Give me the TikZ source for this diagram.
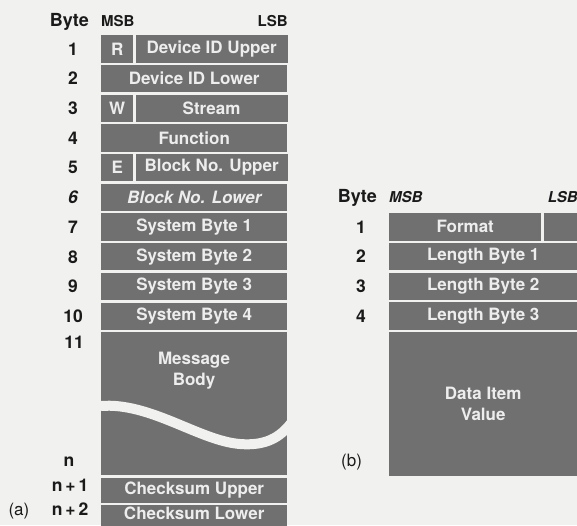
\documentclass[tikz,border=0pt]{standalone}
\usepackage{fontspec}
\setsansfont{TeX Gyre Heros}
\usetikzlibrary{positioning}
\definecolor{cellgray}{HTML}{707070}
\definecolor{paper}{HTML}{F1F1EF}
\definecolor{celltext}{HTML}{EDEDED}
\definecolor{ink}{HTML}{1A1A1A}

\begin{document}
\begin{tikzpicture}[x=1pt, y=-1pt,
    cell/.style={fill=cellgray, text=celltext, inner sep=0pt, minimum height=27.3pt, font=\sffamily\bfseries\fontsize{17}{21}\selectfont},
    wide/.style={cell, minimum width=186pt},
    wideb/.style={cell, minimum width=188pt},
    flag/.style={cell, minimum width=32pt},
    rest/.style={cell, minimum width=152pt},
    num/.style={text=ink, inner sep=0pt, text height=12.5pt, text depth=0pt, font=\sffamily\bfseries\fontsize{17.5}{19}\selectfont},
    hdr/.style={text=ink, inner sep=0pt, font=\sffamily\bfseries\fontsize{15}{17}\selectfont},
    hdrit/.style={hdr, font=\sffamily\bfseries\itshape\fontsize{15}{17}\selectfont},
    byte/.style={text=ink, inner sep=0pt, font=\sffamily\bfseries\fontsize{18}{20}\selectfont},
    caption/.style={text=ink, inner sep=0pt, font=\sffamily\fontsize{17}{19}\selectfont}
]
\fill[paper] (0,0) rectangle (577,525);
\useasboundingbox (0,0) rectangle (577,525);

% (a) message
\node[flag, anchor=north west] (rbit) at (101,35) {R};
\node[rest, right=2pt of rbit] (devup) {Device ID Upper};
\node[wide, below=2pt of rbit.south west, anchor=north west] (devlo) {Device ID Lower};
\node[flag, below=2pt of devlo.south west, anchor=north west] (wbit) {W};
\node[rest, right=2pt of wbit] (stream) {Stream};
\node[wide, below=2pt of wbit.south west, anchor=north west] (func) {Function};
\node[flag, below=2pt of func.south west, anchor=north west] (ebit) {E};
\node[rest, right=2pt of ebit] (blkup) {Block No. Upper};
\node[wide, below=2pt of ebit.south west, anchor=north west] (blklo) {\itshape Block No. Lower};
\node[wide, below=2pt of blklo] (sys1) {System Byte 1};
\node[wide, below=2pt of sys1] (sys2) {System Byte 2};
\node[wide, below=2pt of sys2] (sys3) {System Byte 3};
\node[wide, below=2pt of sys3] (sys4) {System Byte 4};
\node[wide, below=2pt of sys4, minimum height=143pt] (body) {};
\node[wide, below=2pt of body, minimum height=25pt] (ckup) {Checksum Upper};
\node[wide, below=2pt of ckup, minimum height=26pt, text depth=9pt] (cklo) {Checksum Lower};

% body text and break
\node[cell, fill=none, align=center] (msgtxt) at (194,371) {Message\\Body};
\draw[paper, line width=10pt] (101,406) .. controls (150,402) and (200,441) .. (240,444) .. controls (265,446) and (280,438) .. (292,422);

% headings
\node[hdr, above=8pt of rbit.north west, anchor=south west] (msba) {MSB};
\node[hdr, above=8pt of devup.north east, anchor=south east] (lsba) {LSB};
\node[byte, left=12pt of msba.base west, anchor=base east] (bytea) {Byte};

% byte numbers
\coordinate (lcol) at (73,0);
\node[num] (a1) at (lcol |- rbit) {1};
\node[num] (a2) at (lcol |- devlo) {2};
\node[num] (a3) at (lcol |- wbit) {3};
\node[num] (a4) at (lcol |- func) {4};
\node[num] (a5) at (lcol |- ebit) {5};
\node[num] (a6) at (lcol |- blklo) {\itshape 6};
\node[num] (a7) at (lcol |- sys1) {7};
\node[num] (a8) at (lcol |- sys2) {8};
\node[num] (a9) at (lcol |- sys3) {9};
\node[num] (a10) at (lcol |- sys4) {10};
\node[num] (a11) at (74,342) {11};
\node[num] (an) at (69,460) {n};
\node[num] (an1) at (70,485) {n{\,}+{\,}1};
\node[num] (an2) at (70,509) {n{\,}+{\,}2};
\node[caption, left=22pt of an2.base west, anchor=base east] (capa) {(a)};

% (b) data item
\node[rest, anchor=north west] (fmt) at (389,213) {Format};
\node[cell, minimum width=34pt, right=2pt of fmt] (fmtlo) {};
\node[wideb, below=2pt of fmt.south west, anchor=north west] (len1) {Length Byte 1};
\node[wideb, below=2pt of len1] (len2) {Length Byte 2};
\node[wideb, below=2pt of len2] (len3) {Length Byte 3};
\node[wideb, below=2pt of len3, minimum height=144pt, align=center] (data) {Data Item\\Value};

\node[hdrit, above=10pt of fmt.north west, anchor=south west] (msbb) {MSB};
\node[hdrit, above=10pt of fmtlo.north east, anchor=south east] (lsbb) {LSB};
\node[byte, left=12pt of msbb.base west, anchor=base east] (byteb) {Byte};

\coordinate (rcol) at (361,0);
\node[num] (b1) at (rcol |- fmt) {1};
\node[num] (b2) at (rcol |- len1) {2};
\node[num] (b3) at (rcol |- len2) {3};
\node[num] (b4) at (rcol |- len3) {4};
\node[caption, anchor=base west] (capb) at (341,466) {(b)};
\end{tikzpicture}
\end{document}
